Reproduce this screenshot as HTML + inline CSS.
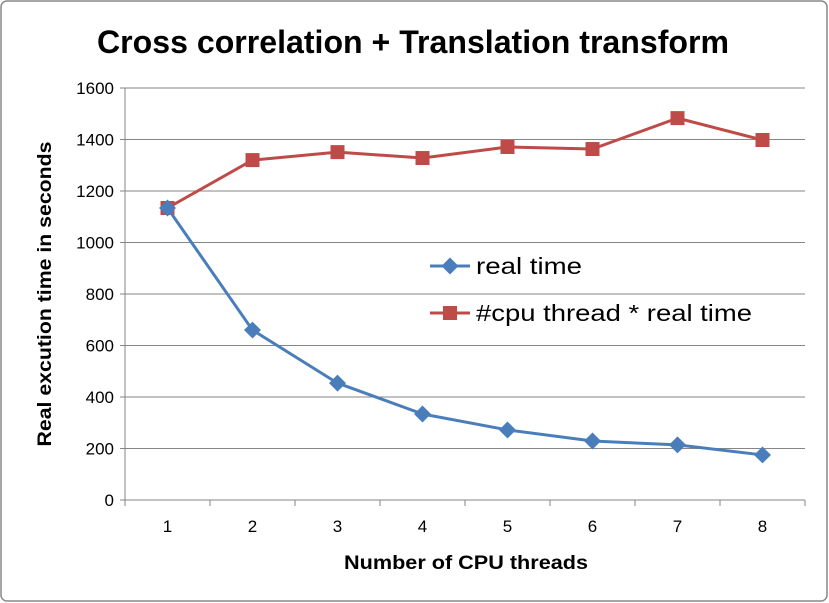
<!DOCTYPE html>
<html><head><meta charset="utf-8"><style>
html,body{margin:0;padding:0;background:#fff;}
svg{display:block;font-family:"Liberation Sans",Arial,sans-serif;}
</style></head><body>
<svg id="chart" width="829" height="603">
<rect x="1" y="1" width="826" height="600" rx="6" fill="#fff" stroke="#898989" stroke-width="1.5"/>
<text x="413" y="53" text-anchor="middle" font-size="32" font-weight="bold" textLength="632" lengthAdjust="spacingAndGlyphs">Cross correlation + Translation transform</text>
<text x="466" y="569" text-anchor="middle" font-size="19" font-weight="bold" textLength="244" lengthAdjust="spacingAndGlyphs">Number of CPU threads</text>
<text transform="translate(51,294) rotate(-90)" text-anchor="middle" font-size="19" font-weight="bold" textLength="305" lengthAdjust="spacingAndGlyphs">Real excution time in seconds</text>
<g id="grid"></g><g id="axes"></g><g id="series"></g>
<g>
<g>
<line x1="430" y1="266" x2="470" y2="266" stroke="#4a7ebb" stroke-width="3"/>
<rect x="444" y="260" width="12" height="12" fill="#4a7ebb" transform="rotate(45 450 266)"/>
<text x="476" y="274" font-size="23" textLength="106" lengthAdjust="spacingAndGlyphs">real time</text></g>
<g>
<line x1="430" y1="313" x2="470" y2="313" stroke="#be4b48" stroke-width="3"/>
<rect x="443" y="306" width="14" height="14" fill="#be4b48"/>
<text x="476" y="321" font-size="23" textLength="276" lengthAdjust="spacingAndGlyphs">#cpu thread * real time</text></g>
</g>
</svg>
<script>
const categories=["1","2","3","4","5","6","7","8"];
const realTime=[1134,660,454,334,272,229,214,175];
const cpuTimesReal=[1134,1320,1351,1328,1371,1363,1483,1398];
const yTicks=[0,200,400,600,800,1000,1200,1400,1600];
const NS="http://www.w3.org/2000/svg";
const L=125,R=805,T=88,B=500,ymax=1600;
const bw=(R-L)/categories.length;
const xs=i=>L+bw*(i+0.5);
const ys=v=>B-(v/ymax)*(B-T);
function mk(p,t,a){const e=document.createElementNS(NS,t);for(const k in a)e.setAttribute(k,a[k]);p.appendChild(e);return e;}
const g=document.getElementById('grid'),ax=document.getElementById('axes'),s=document.getElementById('series');
yTicks.forEach(v=>{
 if(v>0){const l=mk(g,'line',{x1:L,x2:R,y1:ys(v),y2:ys(v),stroke:'#868686','stroke-width':1});
 
 }
 mk(ax,'line',{x1:L-5,x2:L,y1:ys(v),y2:ys(v),stroke:'#868686'});
 const t=mk(ax,'text',{x:L-11,y:ys(v)+6,'text-anchor':'end','font-size':17});t.textContent=v;
 
 
});
mk(ax,'line',{x1:L,x2:L,y1:T,y2:B,stroke:'#868686'});
mk(ax,'line',{x1:L,x2:R,y1:B,y2:B,stroke:'#868686'});
for(let i=0;i<=categories.length;i++)mk(ax,'line',{x1:L+bw*i,x2:L+bw*i,y1:B,y2:B+6,stroke:'#868686'});
categories.forEach((c,i)=>{const t=mk(ax,'text',{x:xs(i),y:B+32,'text-anchor':'middle','font-size':17});t.textContent=c;
 
 });
function series(vals,color,shape,name){
 const p=mk(s,'polyline',{points:vals.map((v,i)=>xs(i)+','+ys(v)).join(' '),fill:'none',stroke:color,'stroke-width':3,'stroke-linejoin':'round'});
 
 
 vals.forEach((v,i)=>{let m;
  if(shape==='sq')m=mk(s,'rect',{x:xs(i)-7,y:ys(v)-7,width:14,height:14,fill:color});
  else m=mk(s,'rect',{x:xs(i)-6,y:ys(v)-6,width:12,height:12,fill:color,transform:`rotate(45 ${xs(i)} ${ys(v)})`});
  
  });
}
series(cpuTimesReal,'#be4b48','sq','cpu-thread-real-time');
series(realTime,'#4a7ebb','dia','real-time');
</script>
</body></html>
